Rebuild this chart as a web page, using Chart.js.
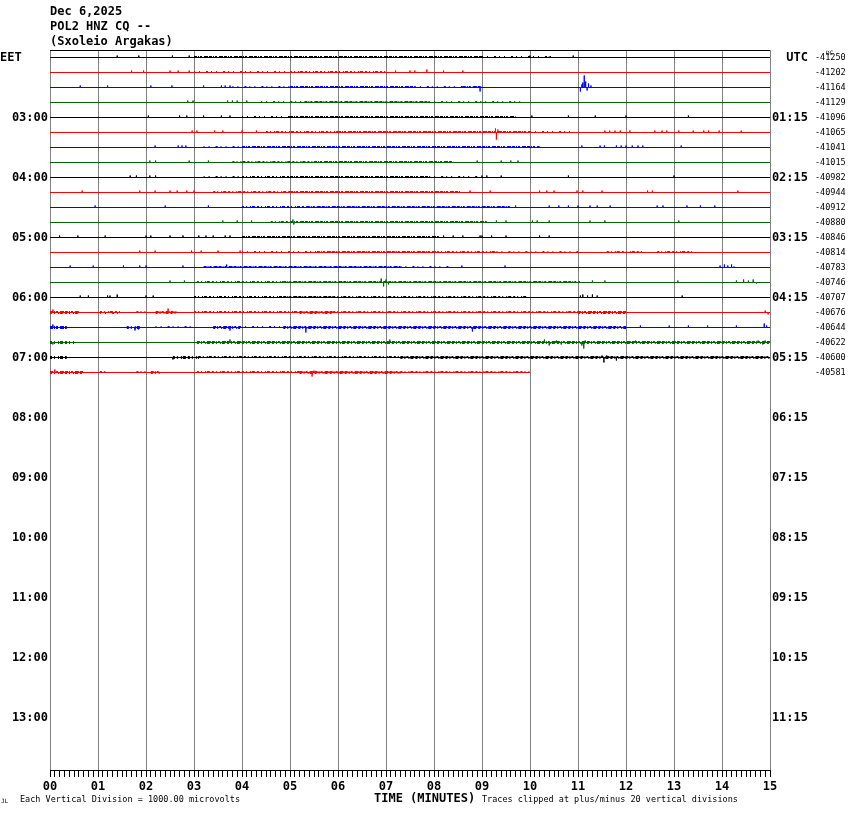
<!DOCTYPE html>
<html>
<head>
<meta charset="utf-8">
<title>POL2 HNZ CQ -- helicorder</title>
<script src="https://cdn.jsdelivr.net/npm/chart.js@4.4.1/dist/chart.umd.min.js"></script>
<style>
  body { margin: 0; background: #fff; }
  canvas { display: block; }
</style>
</head>
<body>
<canvas id="heli" width="850" height="814"></canvas>
<script>
// --- données ---
const headerLines = ["Dec 6,2025", "POL2 HNZ CQ --", "(Sxoleio Argakas)"];
const minuteLabels = ["00", "01", "02", "03", "04", "05", "06", "07", "08", "09", "10", "11", "12", "13", "14", "15"];
const localHourLabels = ["EET", "03:00", "04:00", "05:00", "06:00", "07:00", "08:00", "09:00", "10:00", "11:00", "12:00", "13:00"];
const utcHourLabels = ["UTC", "01:15", "02:15", "03:15", "04:15", "05:15", "06:15", "07:15", "08:15", "09:15", "10:15", "11:15"];
const dcLabels = ["-41250", "-41202", "-41164", "-41129", "-41096", "-41065", "-41041", "-41015", "-40982", "-40944", "-40912",
  "-40880", "-40846", "-40814", "-40783", "-40746", "-40707", "-40676", "-40644", "-40622", "-40600", "-40581"];
const footLeft = "Each Vertical Division = 1000.00 microvolts";
const footAxis = "TIME (MINUTES)";
const footRight = "Traces clipped at plus/minus 20 vertical divisions";

// fin de chaque trace (minutes)
const traceEnds = [15, 15, 15, 15, 15, 15, 15, 15, 15, 15, 15, 15, 15, 15, 15, 15, 15, 15, 15, 15, 15, 10];

// pics isolés : [minute, amplitude] (15 unités = un intervalle entre traces, + vers le haut)
const traceSpikes = [
  [[1.4, 2], [1.85, 2], [2.55, 2], [2.9, 2], [10.0, 2], [10.4, 1], [10.9, 2]],
  [[1.7, 2], [1.95, 2], [2.5, 2], [2.67, 2], [2.9, 2], [7.2, 2], [7.5, 2], [7.6, 2], [7.85, 3], [8.2, 2], [8.6, 2]],
  [[0.63, 2], [1.2, 2], [2.1, 2], [2.54, 2], [3.2, 2], [3.57, 2], [3.65, 2], [3.75, 2], [8.96, -4],
   [11.05, -4], [11.08, 3], [11.1, 5], [11.13, 12], [11.16, 6], [11.19, -3], [11.22, 4], [11.27, 2]],
  [[2.87, 2], [2.98, 2], [3.7, 2], [3.8, 2], [3.9, 2], [4.1, 2]],
  [[2.05, 2], [2.7, 2], [2.85, 2], [3.2, 2], [3.57, 2], [3.75, 2], [10.04, 2], [10.8, 2], [11.36, 2], [12.0, 2], [13.3, 2]],
  [[2.96, 2], [3.06, 2], [3.43, 2], [3.6, 2], [4.0, 2], [4.3, 2], [9.28, 4], [9.3, -7], [9.33, 3],
   [11.56, 2], [11.66, 2], [11.77, 2], [11.88, 2], [12.08, 2], [12.6, 2], [12.75, 2], [12.85, 2], [13.1, 2],
   [13.4, 2], [13.62, 2], [13.72, 2], [13.94, 2], [14.4, 2]],
  [[2.19, 2], [2.67, 2], [2.75, 2], [2.83, 2], [11.08, 2], [11.46, 2], [11.55, 2], [11.8, 2], [11.9, 2], [12.0, 2],
   [12.13, 2], [12.25, 2], [12.35, 2], [13.15, 2]],
  [[2.08, 2], [2.2, 2], [2.9, 2], [3.3, 2], [8.9, 2], [9.4, 2], [9.6, 2], [9.75, 2]],
  [[1.67, 2], [1.8, 2], [2.08, 2], [2.2, 2], [9.0, 2], [9.1, 2], [9.4, 2], [10.8, 2], [13.0, 2]],
  [[0.67, 2], [1.87, 2], [2.19, 2], [2.5, 2], [2.65, 2], [2.85, 2], [3.0, 2], [8.75, 2], [9.17, 2], [10.2, 2],
   [10.35, 2], [10.5, 2], [10.98, 2], [11.1, 2], [11.5, 2], [12.45, 2], [12.55, 2], [14.33, 2]],
  [[0.94, 2], [2.4, 2], [3.3, 2], [9.7, 2], [10.4, 2], [10.6, 2], [10.8, 2], [11.0, 2], [11.25, 2], [11.4, 2],
   [11.67, 2], [12.65, 2], [12.77, 2], [13.27, 2], [13.55, 2], [13.85, 2]],
  [[3.6, 2], [3.9, 2], [4.2, 2], [5.06, 3], [5.08, -2], [9.3, 2], [9.5, 2], [10.05, 2], [10.15, 2], [10.4, 2],
   [11.25, 2], [11.56, 2], [13.1, 2]],
  [[0.2, 2], [0.58, 2], [1.15, 2], [2.0, 2], [2.1, 2], [2.5, 2], [2.77, 2], [3.1, 2], [3.25, 2], [3.4, 2], [3.65, 2],
   [3.75, 2], [8.2, 2], [8.4, 2], [8.6, 2], [8.96, 2], [9.0, 2], [9.2, 2], [9.5, 2], [10.2, 2], [10.4, 2]],
  [[1.87, 2], [2.19, 2], [2.95, 2], [3.15, 2], [3.5, 2], [3.96, 2]],
  [[0.42, 2], [0.9, 2], [1.53, 2], [1.87, 2], [2.0, 2], [2.77, 2], [3.68, 3], [8.58, 2], [9.48, 2],
   [13.96, 2], [14.05, 3], [14.12, 2], [14.2, 3], [14.25, 1]],
  [[2.5, 2], [2.8, 2], [6.9, 4], [6.95, -4], [7.0, 3], [7.05, -2], [11.3, 2], [11.56, 2], [13.08, 2],
   [14.3, 2], [14.45, 3], [14.55, 2], [14.65, 3], [14.72, -1]],
  [[0.63, 2], [0.8, 2], [1.2, 2], [1.25, 2], [1.4, 3], [2.0, 2], [2.15, 2], [11.05, 2], [11.1, 3], [11.2, 2],
   [11.3, 3], [11.4, 2], [13.17, 2]],
  [[0.06, 3], [2.46, 4], [14.9, 2], [14.96, -2]],
  [[0.06, 3], [1.77, -3], [1.84, -2], [3.75, -3], [5.33, -5], [8.8, -4], [12.3, 2], [12.9, 2], [13.3, 2],
   [13.7, 2], [14.3, 2], [14.88, 4], [14.93, 2]],
  [[0.06, -2], [3.75, 3], [7.08, 3], [10.3, 3], [10.4, -3], [10.55, 2], [10.65, -2], [11.08, -3], [11.12, -6],
   [11.15, 2], [12.2, 2], [14.75, 2], [14.85, -2], [14.9, 2]],
  [[2.56, -2], [11.5, 2], [11.54, -5], [11.6, 2], [11.8, -3]],
  [[0.1, 3], [5.46, -4], [5.5, 2]]
];

// zones de bruit dense : [début, fin, côté (+1 haut / -1 bas), densité 1..3]
const traceFuzz = [
  [[3.0, 9.0, 1, 3], [9.0, 10.5, 1, 1]],
  [[3.0, 5.0, 1, 1], [5.0, 7.0, 1, 2]],
  [[3.8, 5.0, 1, 1], [5.0, 7.6, 1, 3], [7.6, 8.6, 1, 1], [8.6, 9.0, 1, 3]],
  [[4.4, 5.3, 1, 1], [5.3, 7.9, 1, 3], [7.9, 9.9, 1, 1]],
  [[4.0, 5.0, 1, 1], [5.0, 9.7, 1, 3]],
  [[4.5, 6.0, 1, 2], [6.0, 10.0, 1, 3], [10.0, 10.9, 1, 1]],
  [[3.2, 4.0, 1, 1], [4.0, 10.2, 1, 3]],
  [[3.8, 5.5, 1, 2], [5.5, 8.4, 1, 3]],
  [[3.2, 4.0, 1, 1], [4.0, 5.0, 1, 2], [5.0, 7.9, 1, 3], [7.9, 8.9, 1, 1]],
  [[3.4, 5.0, 1, 2], [5.0, 8.55, 1, 3]],
  [[4.0, 5.35, 1, 2], [5.35, 9.6, 1, 3]],
  [[4.6, 5.0, 1, 2], [5.0, 9.1, 1, 3]],
  [[4.0, 8.1, 1, 3]],
  [[4.0, 5.56, 1, 1], [5.56, 8.06, 1, 3], [8.06, 9.3, 1, 2], [9.3, 11.0, 1, 1], [11.6, 12.35, 1, 2], [12.65, 13.4, 1, 2]],
  [[3.2, 7.3, 1, 3], [7.3, 8.35, 1, 1]],
  [[3.06, 4.86, 1, 2], [4.86, 11.04, 1, 3]],
  [[3.0, 4.86, 1, 2], [4.86, 5.9, 1, 3], [5.9, 9.93, 1, 2]],
  [[0, 0.6, 1, 3], [0, 0.6, -1, 2], [1.04, 1.46, 1, 2], [1.04, 1.46, -1, 1], [1.8, 2.0, 1, 2], [2.2, 2.65, 1, 3],
   [2.2, 2.65, -1, 2], [3.0, 5.2, 1, 2], [5.2, 5.9, 1, 3], [5.2, 5.9, -1, 2], [5.9, 11.0, 1, 2], [11.0, 12.0, 1, 3],
   [11.0, 12.0, -1, 2]],
  [[0, 0.35, 1, 3], [0, 0.35, -1, 3], [1.6, 1.9, 1, 2], [1.6, 1.9, -1, 2], [2.2, 3.0, 1, 1], [3.4, 3.96, 1, 3],
   [3.4, 3.96, -1, 2], [3.96, 4.86, 1, 1], [4.86, 12.0, 1, 3], [4.86, 12.0, -1, 2]],
  [[0, 0.5, 1, 2], [0, 0.5, -1, 2], [3.06, 15, 1, 3], [3.06, 15, -1, 2]],
  [[0, 0.35, 1, 2], [0, 0.35, -1, 2], [2.56, 3.1, 1, 2], [2.56, 3.1, -1, 2], [3.1, 7.3, 1, 2], [7.3, 15, 1, 3],
   [7.3, 15, -1, 2]],
  [[0, 0.7, 1, 3], [0, 0.7, -1, 2], [1.04, 1.2, 1, 2], [1.8, 2.0, 1, 2], [2.1, 2.3, 1, 3], [2.1, 2.3, -1, 2],
   [3.06, 5.2, 1, 2], [5.2, 7.3, 1, 3], [5.2, 7.3, -1, 2], [7.3, 10, 1, 2]]
];

// --- style ---
const ROWS = 48;              // 12 heures x 4 lignes de 15 minutes
const AMP_PER_ROW = 15;       // unités d'amplitude par intervalle de ligne
const traceColours = ["#000000", "#ff0000", "#0000ff", "#006400"];
// motifs irréguliers pour imiter le bruit
const fuzzDash = { 1: [1, 4, 1, 6, 2, 3], 2: [2, 2, 1, 3, 1, 1, 3, 2], 3: [3, 1, 1, 1, 2, 2, 4, 1] };
const monoFont = '"DejaVu Sans Mono", monospace';

// --- construction des jeux de données ---
function buildTrace(i) {
  const base = i + 0.5;
  const pts = [{ x: 0, y: base }];
  traceSpikes[i].slice().sort((a, b) => a[0] - b[0]).forEach(([t, a]) => {
    pts.push({ x: t, y: base }, { x: t, y: base - a / AMP_PER_ROW }, { x: t, y: base });
  });
  pts.push({ x: traceEnds[i], y: base });
  return pts;
}

function buildFuzz(i) {
  const base = i + 0.5;
  const pts = [];
  traceFuzz[i].forEach(([s, e, side, d]) => {
    const y = base - side / AMP_PER_ROW;
    pts.push({ x: s, y: y, d: d }, { x: e, y: y, d: d }, { x: e, y: null, d: d });
  });
  return pts;
}

const datasets = [];
traceEnds.forEach((end, i) => {
  const colour = traceColours[i % 4];
  const fuzzPts = buildFuzz(i);
  datasets.push({
    data: fuzzPts,
    borderColor: colour,
    borderWidth: 1,
    pointRadius: 0,
    spanGaps: false,
    segment: { borderDash: (c) => fuzzDash[fuzzPts[c.p0DataIndex].d] }
  });
  datasets.push({
    data: buildTrace(i),
    borderColor: colour,
    borderWidth: 1,
    pointRadius: 0
  });
});

const hourRows = localHourLabels.map((_, k) => k * 4 + 0.5);
const traceRows = dcLabels.map((_, k) => k + 0.5);
const minuteTicks = [];
for (let k = 0; k <= 150; k++) minuteTicks.push({ value: k / 10 });

function isMinute(v) { return Math.abs(v - Math.round(v)) < 1e-6; }

// --- textes hors graphique ---
const heliDecor = {
  id: "heliDecor",
  afterDraw(chart) {
    const { ctx, chartArea: a } = chart;
    const y = chart.scales.y;
    ctx.save();
    ctx.strokeStyle = "#000";
    ctx.lineWidth = 1;
    ctx.beginPath();
    ctx.moveTo(a.left, a.top + 0.5);
    ctx.lineTo(a.right, a.top + 0.5);
    ctx.stroke();

    ctx.fillStyle = "#000";
    ctx.textBaseline = "middle";
    ctx.textAlign = "left";
    ctx.font = "bold 12px " + monoFont;
    headerLines.forEach((t, k) => ctx.fillText(t, a.left, 12 + k * 15));
    ctx.fillText(localHourLabels[0], 0, y.getPixelForValue(hourRows[0]));
    ctx.fillText(footAxis, 374, 799);

    ctx.font = "8.5px " + monoFont;
    ctx.fillText(footLeft, 20, 800);
    ctx.fillText(footRight, 482, 800);
    ctx.font = "6px " + monoFont;
    ctx.fillText("DC", 826, 53);
    ctx.fillText("JL", 1, 801);
    ctx.restore();
  }
};

new Chart(document.getElementById("heli"), {
  type: "line",
  data: { datasets: datasets },
  options: {
    responsive: false,
    animation: false,
    events: [],
    layout: { padding: { top: 50, left: 0, right: 0, bottom: 0 } },
    plugins: { legend: { display: false }, tooltip: { enabled: false } },
    scales: {
      x: {
        type: "linear",
        position: "bottom",
        min: 0,
        max: 15,
        afterBuildTicks: (s) => { s.ticks = minuteTicks.map((t) => ({ value: t.value })); },
        afterFit: (s) => { s.height = 44; },
        border: { display: true, color: "#000", width: 1 },
        grid: {
          color: (c) => (c.tick && isMinute(c.tick.value) ? "#808080" : "rgba(0,0,0,0)"),
          tickColor: "#000",
          tickLength: 7,
          lineWidth: 1
        },
        ticks: {
          autoSkip: false,
          maxRotation: 0,
          padding: 3,
          color: "#000",
          font: { family: monoFont, size: 12, weight: "bold" },
          callback: (v) => (isMinute(v) ? minuteLabels[Math.round(v)] : "")
        }
      },
      y: {
        type: "linear",
        position: "left",
        min: 0,
        max: ROWS,
        reverse: true,
        afterBuildTicks: (s) => { s.ticks = hourRows.map((v) => ({ value: v })); },
        afterFit: (s) => { s.width = 50; },
        border: { display: false },
        grid: { display: false, drawTicks: false },
        ticks: {
          autoSkip: false,
          padding: 2,
          crossAlign: "near",
          color: "#000",
          font: { family: monoFont, size: 12, weight: "bold" },
          callback: (v, i) => (i === 0 ? "" : localHourLabels[i])
        }
      },
      y2: {
        type: "linear",
        position: "right",
        min: 0,
        max: ROWS,
        reverse: true,
        afterBuildTicks: (s) => { s.ticks = hourRows.map((v) => ({ value: v })); },
        afterFit: (s) => { s.width = 38; },
        border: { display: false },
        grid: { display: false, drawTicks: false },
        ticks: {
          autoSkip: false,
          crossAlign: "far",
          color: "#000",
          font: { family: monoFont, size: 12, weight: "bold" },
          callback: (v, i) => utcHourLabels[i]
        }
      },
      y3: {
        type: "linear",
        position: "right",
        min: 0,
        max: ROWS,
        reverse: true,
        afterBuildTicks: (s) => { s.ticks = traceRows.map((v) => ({ value: v })); },
        afterFit: (s) => { s.width = 42; },
        border: { display: false },
        grid: { display: false, drawTicks: false },
        ticks: {
          autoSkip: false,
          padding: 7,
          crossAlign: "near",
          color: "#000",
          font: { family: monoFont, size: 8.5 },
          callback: (v, i) => dcLabels[i]
        }
      }
    }
  },
  plugins: [heliDecor]
});
</script>
</body>
</html>
